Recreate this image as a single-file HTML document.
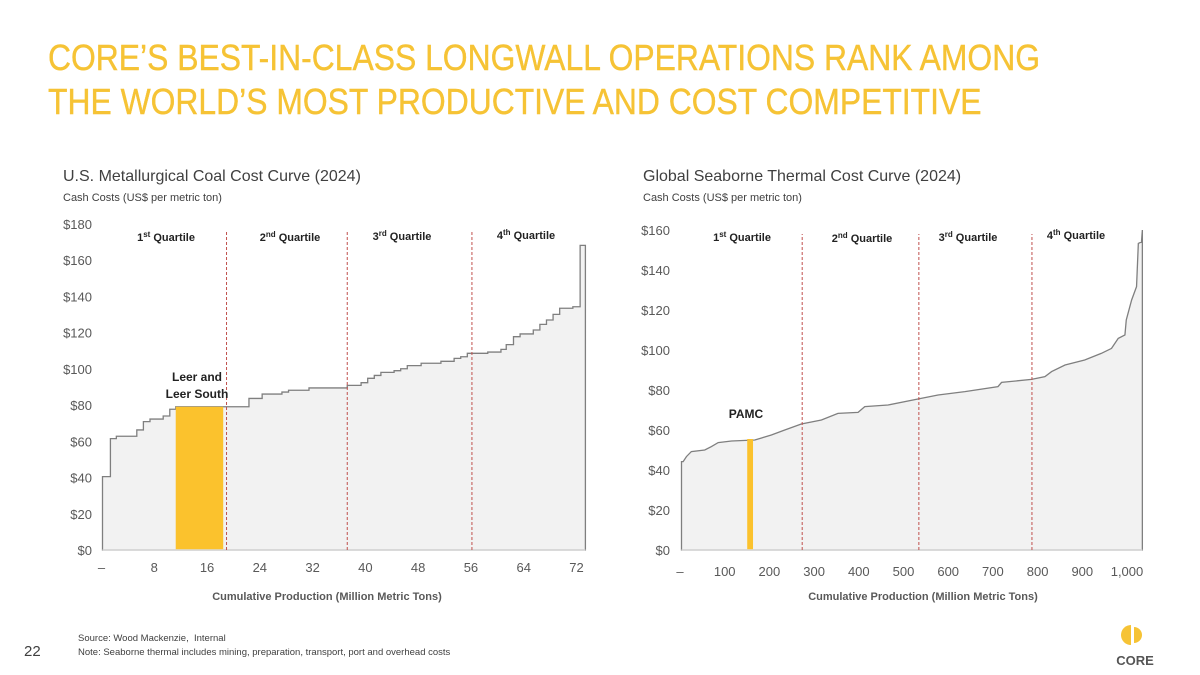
<!DOCTYPE html>
<html><head><meta charset="utf-8">
<style>
body{margin:0;width:1200px;height:675px;background:#fff;font-family:"Liberation Sans",sans-serif;overflow:hidden;position:relative}
.t{position:absolute;white-space:nowrap}
</style></head><body>
<div class="t" style="left:48px;top:36px;font-size:36px;line-height:44px;color:#F6C335;transform:scaleX(0.885);transform-origin:left top;-webkit-text-stroke:0.4px #F6C335">CORE’S BEST-IN-CLASS LONGWALL OPERATIONS RANK AMONG<br>THE WORLD’S MOST PRODUCTIVE AND COST COMPETITIVE</div>
<div class="t" style="left:63px;top:168px;font-size:16px;color:#404040">U.S. Metallurgical Coal Cost Curve (2024)</div>
<div class="t" style="left:63px;top:192px;font-size:11px;color:#404040">Cash Costs (US$ per metric ton)</div>
<div class="t" style="left:643px;top:168px;font-size:16px;color:#404040">Global Seaborne Thermal Cost Curve (2024)</div>
<div class="t" style="left:643px;top:192px;font-size:11px;color:#404040">Cash Costs (US$ per metric ton)</div>
<div class="t" style="left:24px;top:643px;font-size:15px;color:#404040">22</div>
<div class="t" style="left:78px;top:632px;font-size:9.5px;color:#404040;line-height:14px">Source: Wood Mackenzie,&nbsp; Internal<br>Note: Seaborne thermal includes mining, preparation, transport, port and overhead costs</div>
<div style="position:absolute;left:1115px;top:622px;width:40px;height:46px">
<svg width="40" height="46"><path d="M16 3 A10 10 0 0 0 16 23 Z" fill="#F6C335"/><path d="M19 5 A8 8 0 0 1 19 21 Z" fill="#F6C335"/><text x="20" y="43" text-anchor="middle" font-size="13" font-weight="bold" fill="#555" font-family="Liberation Sans">CORE</text></svg></div>
<svg id="ch" width="1200" height="675" style="position:absolute;left:0;top:0"></svg>
<script>
// Left chart data: step ends (cumulative Mt) and cash cost values
const metEnds=[1.2,2.1,5.2,6.2,7.2,9.2,10.2,11.1,18.3,22.2,24.2,27.2,28.2,31.3,37.1,39.2,40.2,41.2,42.2,44.2,45.2,46.2,48.3,51.3,53.3,54.3,55.3,58.4,60.4,61.2,62.3,63.3,65.3,66.3,67.3,68.3,69.3,71.3,72.4,73.2];
const metCosts=[40.5,61.5,62.8,66.3,70.9,72.3,74,77.7,79.1,79.1,83.7,86.1,87.2,88.2,89.5,90.9,92.4,94.8,96.4,98.1,99,100.1,101.8,103.1,104.2,105.8,106.7,108.6,109.3,110.8,113.4,117.8,119.3,121.5,124.6,127,130.1,133.5,134.3,168.2];
const metTicksX=["–","8","16","24","32","40","48","56","64","72"];
const metTicksY=["$0","$20","$40","$60","$80","$100","$120","$140","$160","$180"];
const metQuartiles=[18.8,37.1,56.0];
const leer=[11.1,18.3,79.1];
// Right chart data
const thX=[3.7,11,22,52,67,82,112,164,201,231,268,313,350,395,410,462,529,574,634,708,716,783,813,828,858,902,939,962,977,992,995,1007,1018,1022,1029,1031];
const thY=[44.2,46.7,49.2,50,51.7,53.7,54.5,55,57.5,60,63,65,68.3,68.8,71.7,72.5,75.5,77.5,79.2,81.7,83.8,85.3,86.7,89.2,92.5,95,98.3,100.8,105.8,107.5,115,125,131.7,153.3,154,160];
const thTicksX=["–","100","200","300","400","500","600","700","800","900","1,000"];
const thTicksY=["$0","$20","$40","$60","$80","$100","$120","$140","$160"];
const thQuartiles=[270,531,784];
const pamc=[147,160,55.5];

const NS="http://www.w3.org/2000/svg",svg=document.getElementById('ch');
function el(t,a,txt){const e=document.createElementNS(NS,t);for(const k in a)e.setAttribute(k,a[k]);if(txt!=null)e.textContent=txt;svg.appendChild(e);return e;}
function lbl(x,y,main,sup,anchor){const t=el('text',{x:x,y:y,'font-size':11,'font-weight':'bold',fill:'#222','text-anchor':anchor||'middle','font-family':'Liberation Sans'});t.textContent='';const a=document.createElementNS(NS,'tspan');a.textContent=main;t.appendChild(a);if(sup){const b=document.createElementNS(NS,'tspan');b.setAttribute('dy','-4');b.setAttribute('font-size','8');b.textContent=sup;t.appendChild(b);const c=document.createElementNS(NS,'tspan');c.setAttribute('dy','4');c.textContent=' Quartile';t.appendChild(c);}return t;}

// LEFT
const lx=v=>102.5+v*6.597, ly=v=>550-v*1.811;
let d='M'+lx(0)+','+ly(0)+' L'+lx(0)+','+ly(metCosts[0]);let prev=0;
metEnds.forEach((e,i)=>{d+=' L'+lx(prev)+','+ly(metCosts[i])+' L'+lx(e)+','+ly(metCosts[i]);prev=e;});
d+=' L'+lx(prev)+','+ly(0)+' Z';
let p=el('path',{d:d,fill:'#F2F2F2',stroke:'#7f7f7f','stroke-width':1.3});

let r=el('rect',{x:lx(leer[0]),y:ly(leer[2]),width:lx(leer[1])-lx(leer[0]),height:ly(0)-ly(leer[2]),fill:'#FBC22D'});

el('line',{x1:102.5,y1:ly(0),x2:lx(73.2),y2:ly(0),stroke:'#d9d9d9','stroke-width':1.5});
metQuartiles.forEach(q=>{const l=el('line',{x1:lx(q),y1:ly(0),x2:lx(q),y2:232,stroke:'#C0504D','stroke-width':1,'stroke-dasharray':'3,2'});});
metTicksY.forEach((t,i)=>{const e=el('text',{x:92,y:ly(i*20)+5,'font-size':13,fill:'#595959','text-anchor':'end','font-family':'Liberation Sans'},t);});
metTicksX.forEach((t,i)=>{const e=el('text',{x:lx(i*8)-1,y:572,'font-size':13,fill:'#595959','text-anchor':'middle','font-family':'Liberation Sans'},t);});
el('text',{x:327,y:600,'font-size':11,'font-weight':'bold',fill:'#595959','text-anchor':'middle','font-family':'Liberation Sans'},'Cumulative Production (Million Metric Tons)');
lbl(166,241,'1','st');lbl(290,241,'2','nd');lbl(402,240,'3','rd');lbl(526,239,'4','th');
el('text',{x:197,y:381,'font-size':12,'font-weight':'bold',fill:'#222','text-anchor':'middle','font-family':'Liberation Sans'},'Leer and');
el('text',{x:197,y:398,'font-size':12,'font-weight':'bold',fill:'#222','text-anchor':'middle','font-family':'Liberation Sans'},'Leer South');

// RIGHT
const rx=v=>681.5+v*0.447, ry=v=>550-v*2;
let d2='M'+rx(0)+','+ry(0)+' L'+rx(0)+','+ry(thY[0]);
thX.forEach((x,i)=>{d2+=' L'+rx(x)+','+ry(thY[i]);});
d2+=' L'+rx(thX[thX.length-1])+','+ry(0)+' Z';
p=el('path',{d:d2,fill:'#F2F2F2',stroke:'#7f7f7f','stroke-width':1.3});

r=el('rect',{x:rx(pamc[0]),y:ry(pamc[2]),width:rx(pamc[1])-rx(pamc[0]),height:ry(0)-ry(pamc[2]),fill:'#FBC22D'});

el('line',{x1:681.5,y1:ry(0),x2:rx(1031),y2:ry(0),stroke:'#d9d9d9','stroke-width':1.5});
thQuartiles.forEach(q=>{const l=el('line',{x1:rx(q),y1:ry(0),x2:rx(q),y2:234,stroke:'#C0504D','stroke-width':1,'stroke-dasharray':'3,2'});});
thTicksY.forEach((t,i)=>{const e=el('text',{x:670,y:ry(i*20)+5,'font-size':13,fill:'#595959','text-anchor':'end','font-family':'Liberation Sans'},t);});
thTicksX.forEach((t,i)=>{const e=el('text',{x:680+i*44.7,y:576,'font-size':13,fill:'#595959','text-anchor':'middle','font-family':'Liberation Sans'},t);});
el('text',{x:923,y:600,'font-size':11,'font-weight':'bold',fill:'#595959','text-anchor':'middle','font-family':'Liberation Sans'},'Cumulative Production (Million Metric Tons)');
lbl(742,241,'1','st');lbl(862,242,'2','nd');lbl(968,241,'3','rd');lbl(1076,239,'4','th');
el('text',{x:746,y:418,'font-size':12,'font-weight':'bold',fill:'#222','text-anchor':'middle','font-family':'Liberation Sans'},'PAMC');
</script>
</body></html>
